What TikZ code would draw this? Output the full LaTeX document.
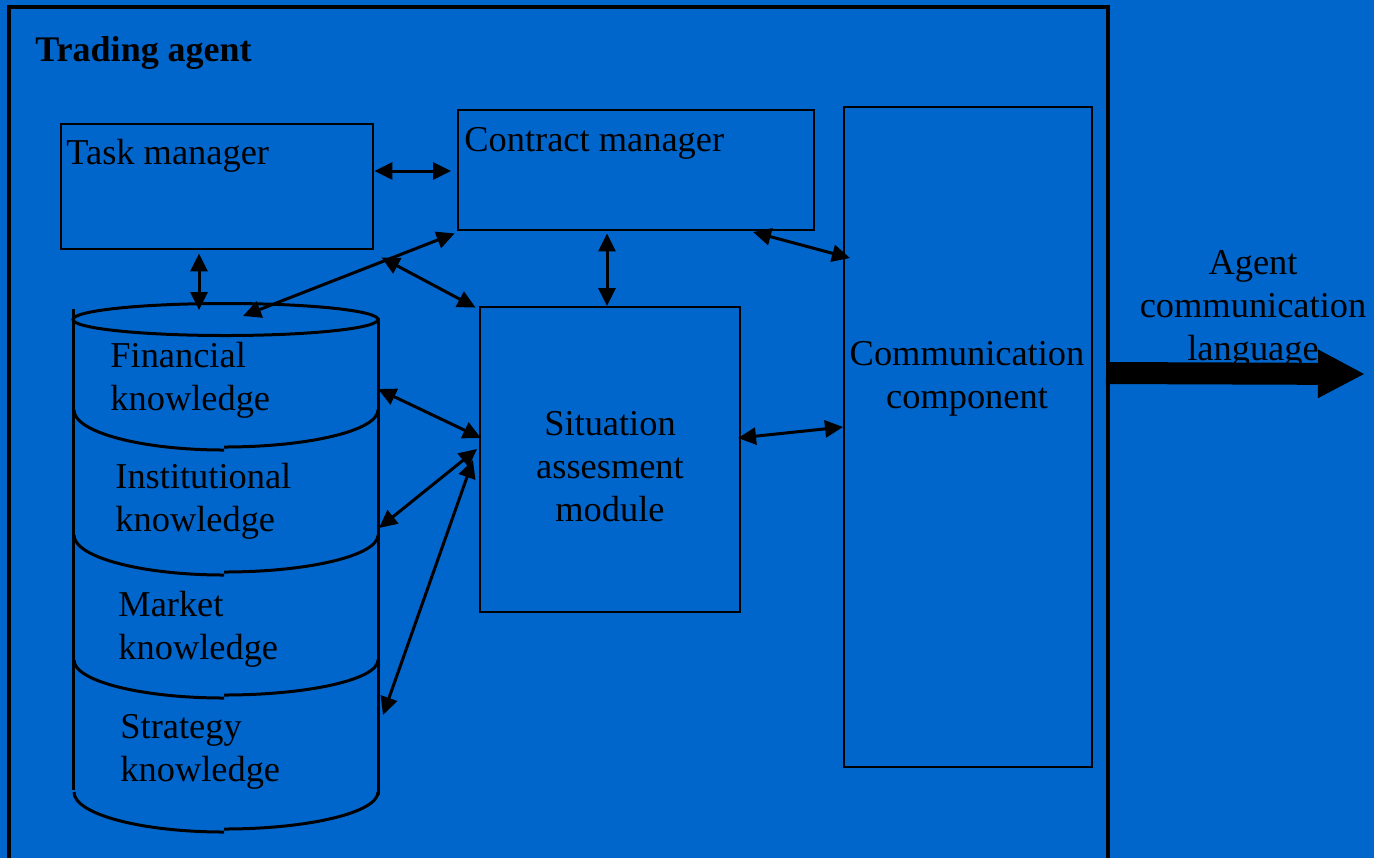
\documentclass[tikz,border=0pt]{standalone}
\usepackage{fontspec}
\setmainfont{Liberation Serif}
\usetikzlibrary{arrows.meta}
\definecolor{panel}{RGB}{0,102,204}
\begin{document}
\begin{tikzpicture}[x=0.5pt,y=-0.5pt,
  box/.style={draw, line width=1.4pt, inner sep=0pt},
  txt/.style={inner sep=0pt, font=\fontsize{18.2}{21.5}\selectfont},
  ttl/.style={inner sep=0pt, font=\fontsize{18}{21.5}\selectfont\bfseries},
  link/.style={line width=1.5pt, {Triangle[length=9pt,width=8.5pt]}-{Triangle[length=9pt,width=8.5pt]}},
  rim/.style={line width=1.5pt}]
% background and agent frame
\fill[panel] (0,0) rectangle (1374,858);
\useasboundingbox (0,0) rectangle (1374,858);
\draw[line width=1.6pt] (9,858) -- (9,7) -- (1108,7) -- (1108,858);
\node[ttl, anchor=base west] (title) at (35,61) {Trading agent};

% component boxes
\node[box, minimum width=156pt, minimum height=62.5pt] (task) at (217,186.5) {};
\node[box, minimum width=178pt, minimum height=60pt] (contract) at (636,170) {};
\node[box, minimum width=124pt, minimum height=330pt] (comm) at (968,437) {};
\node[box, minimum width=130pt, minimum height=152.5pt] (sit) at (610,459.5) {};

% labels (base anchor = baseline of the last line)
\node[txt, anchor=base west] (tasklbl) at (66,164) {Task manager};
\node[txt, anchor=base west] (contractlbl) at (464,151) {Contract manager};
\node[txt, anchor=base, align=center] (commlbl) at (967,408) {Communication\\component};
\node[txt, anchor=base, align=center] (sitlbl) at (610,521) {Situation\\assesment\\module};

% knowledge base cylinder
\draw[rim] (225.5,319.5) ellipse [x radius=76.25pt, y radius=8pt];
\draw[rim] (73,309) -- (73,790);
\draw[rim] (378,318) -- (378,795);
\foreach \t/\b in {410/450, 535/575, 660/698, 792/832}{
  \draw[rim] (74,\t) .. controls (74,{\t+0.552*(\b-\t)}) and (141,\b) .. (224,\b);
  \draw[rim] (224,\b-3) .. controls (309,\b-3) and (378,{\t+0.552*(\b-3-\t)}) .. (378,\t);
}
\node[txt, anchor=base west, align=left] (fin) at (110,410) {Financial\\knowledge};
\node[txt, anchor=base west, align=left] (inst) at (115,531) {Institutional\\knowledge};
\node[txt, anchor=base west, align=left] (mkt) at (118,659) {Market\\knowledge};
\node[txt, anchor=base west, align=left] (strat) at (120,781) {Strategy\\knowledge};

% connector end points on the cylinder
\coordinate (kb-top) at (199,310);
\coordinate (kb-lid) at (243,316);
\coordinate (kb-fin) at (378,389);
\coordinate (kb-inst) at (379,528);
\coordinate (kb-strat) at (383,715);

% connectors
\draw[link] (task.east |- 0,171) -- (451,171);
\draw[link] (task.south -| 199,0) ++(0,3) -- (kb-top);
\draw[link] (kb-lid) -- ([shift={(-1pt,-1pt)}]contract.south west);
\draw[link] ([shift={(3.5pt,-3.5pt)}]task.south east) -- ([shift={(-1.5pt,-1pt)}]sit.north west);
\draw[link] (contract.south -| 607,0) ++(0,2) -- (607,306);
\draw[link] (753,232) -- (850,258);
\draw[link] (738,438) -- (843,427);
\draw[link] (kb-fin) -- (481,438);
\draw[link] (kb-inst) -- (477,449);
\draw[link] (kb-strat) -- (473,460);

% outgoing message channel
\node[txt, anchor=base, align=center] (acl) at (1253,360) {Agent\\communication\\language};
\coordinate (chan-in) at (1106,373);
\coordinate (chan-out) at (1365,374);
\draw[line width=11pt, -{Triangle[length=23.5pt,width=22.5pt]}] (chan-in) -- (chan-out);
\end{tikzpicture}
\end{document}
